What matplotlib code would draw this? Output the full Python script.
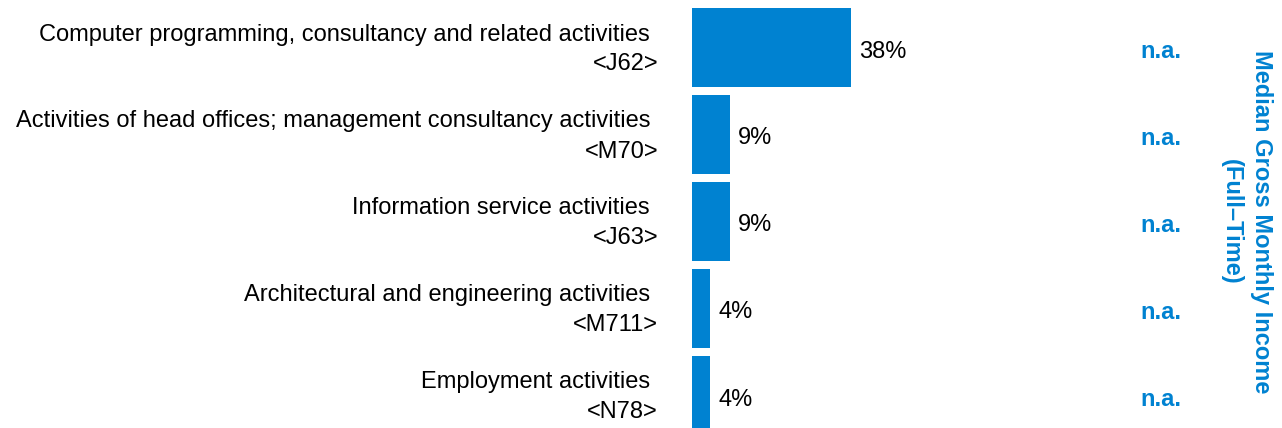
import matplotlib.pyplot as plt

plt.rcParams["font.family"] = ["Liberation Sans", "DejaVu Sans"]

industries = [
    "Computer programming, consultancy and related activities",
    "Activities of head offices; management consultancy activities",
    "Information service activities",
    "Architectural and engineering activities",
    "Employment activities",
]
codes = ["<J62>", "<M70>", "<J63>", "<M711>", "<N78>"]
shares = [37.9, 9.1, 9.1, 4.4, 4.4]
income = ["n.a.", "n.a.", "n.a.", "n.a.", "n.a."]

BLUE = "#0082D1"

fig = plt.figure(figsize=(12.82, 4.28), dpi=100)
ax = fig.add_axes([692 / 1282, 0, 1 - 692 / 1282, 1])

rows = list(range(len(shares)))
ax.barh(rows, shares, height=0.91, color=BLUE, align="center")
ax.set_xlim(0, (1282 - 692) / 4.2)
ax.set_ylim(4 + 32.5 / 87, -47.5 / 87)
ax.axis("off")

px = 1 / 4.2  # data units per pixel along x
for i, (name, code, val, inc) in enumerate(zip(industries, codes, shares, income)):
    ax.text(-42 * px, i - 13 / 87, name, ha="right", va="center", fontsize=17)
    ax.text(-34 * px, i + 17 / 87, code, ha="right", va="center", fontsize=17)
    ax.text(val + 8 * px, i + 4 / 87, f"{round(val)}%", ha="left", va="center", fontsize=17)
    ax.text((1161 - 692) * px, i + 4 / 87, inc, ha="center", va="center",
            fontsize=17, fontweight="bold", color=BLUE)

fig.text(1246.5 / 1282, 1 - 222 / 428, "Median Gross Monthly Income\n(Full\u2013Time)",
         rotation=-90, ha="center", va="center", fontsize=17,
         fontweight="bold", color=BLUE, multialignment="center", linespacing=1.4)

fig.savefig("out.png", dpi=100)
